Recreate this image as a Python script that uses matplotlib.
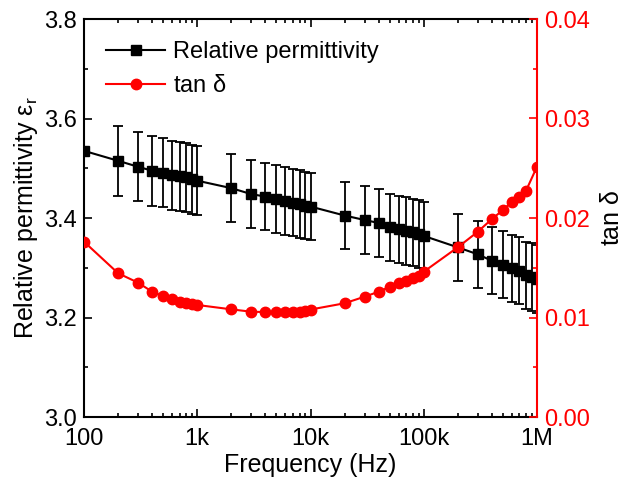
import matplotlib

matplotlib.use("Agg")
import matplotlib.pyplot as plt
import numpy as np
from matplotlib.lines import Line2D
from matplotlib.ticker import FixedLocator, FuncFormatter, LogLocator, MultipleLocator, NullFormatter

plt.rcParams["font.family"] = ["Liberation Sans", "DejaVu Sans"]

# permittivity sweep: 100 Hz .. 1 MHz, 9 points per decade
freq = [100, 200, 300, 400, 500, 600, 700, 800, 900,
        1e3, 2e3, 3e3, 4e3, 5e3, 6e3, 7e3, 8e3, 9e3,
        1e4, 2e4, 3e4, 4e4, 5e4, 6e4, 7e4, 8e4, 9e4,
        1e5, 2e5, 3e5, 4e5, 5e5, 6e5, 7e5, 8e5, 9e5, 1e6]
eps_r = [3.535, 3.515, 3.503, 3.495, 3.491, 3.486, 3.484, 3.482, 3.478,
         3.475, 3.460, 3.448, 3.443, 3.438, 3.434, 3.431, 3.428, 3.425,
         3.423, 3.405, 3.396, 3.390, 3.381, 3.377, 3.374, 3.371, 3.368,
         3.364, 3.341, 3.327, 3.314, 3.306, 3.299, 3.294, 3.285, 3.281, 3.277]
eps_err = [np.nan, 0.070, 0.069, 0.070, 0.069, 0.069, 0.069, 0.069, 0.069,
           0.069, 0.068, 0.068, 0.068, 0.068, 0.068, 0.068, 0.068, 0.068,
           0.068, 0.068, 0.068, 0.068, 0.068, 0.068, 0.068, 0.068, 0.068,
           0.068, 0.068, 0.067, 0.067, 0.067, 0.067, 0.067, 0.067, 0.068, 0.068]

# loss tangent (no 900 kHz point)
freq_tan = [100, 200, 300, 400, 500, 600, 700, 800, 900,
            1e3, 2e3, 3e3, 4e3, 5e3, 6e3, 7e3, 8e3, 9e3,
            1e4, 2e4, 3e4, 4e4, 5e4, 6e4, 7e4, 8e4, 9e4,
            1e5, 2e5, 3e5, 4e5, 5e5, 6e5, 7e5, 8e5, 1e6]
tan_d = [0.01762, 0.01445, 0.01350, 0.01259, 0.01216, 0.01183, 0.01159, 0.01143, 0.01133,
         0.01126, 0.01082, 0.01058, 0.01055, 0.01052, 0.01052, 0.01055, 0.01060, 0.01070,
         0.01080, 0.01143, 0.01209, 0.01259, 0.01309, 0.01344, 0.01370, 0.01400, 0.01417,
         0.01460, 0.01706, 0.01862, 0.01990, 0.02080, 0.02164, 0.02214, 0.02274, 0.02516]

x_ticks = [1e2, 1e3, 1e4, 1e5, 1e6]
x_labels = ["100", "1k", "10k", "100k", "1M"]

RED = "#ff0000"
TICK_FS = 17
LABEL_FS = 18

fig = plt.figure(figsize=(6.27, 4.90), dpi=100)
ax = fig.add_axes([84 / 627, 1 - 417 / 490, (537 - 84) / 627, (417 - 19) / 490])
ax2 = ax.twinx()

ax.errorbar(freq, eps_r, yerr=eps_err, color="black", marker="s", markersize=7,
            linewidth=1.5, elinewidth=1.3, capsize=3.5, capthick=1.3)
ax2.plot(freq_tan, tan_d, color=RED, marker="o", markersize=7.5, linewidth=1.5)

ax.set_xscale("log")
ax.set_xlim(100, 1e6)
ax.set_ylim(3.0, 3.8)
ax2.set_ylim(0.0, 0.04)

ax.xaxis.set_major_locator(FixedLocator(x_ticks))
ax.xaxis.set_major_formatter(FuncFormatter(lambda v, p: dict(zip(x_ticks, x_labels)).get(v, "")))
ax.xaxis.set_minor_locator(LogLocator(base=10, subs=np.arange(2, 10)))
ax.xaxis.set_minor_formatter(NullFormatter())
ax.yaxis.set_major_locator(MultipleLocator(0.2))
ax.yaxis.set_minor_locator(MultipleLocator(0.1))
ax.yaxis.set_major_formatter(FuncFormatter(lambda v, p: f"{v:.1f}"))
ax2.yaxis.set_major_locator(MultipleLocator(0.01))
ax2.yaxis.set_minor_locator(MultipleLocator(0.005))
ax2.yaxis.set_major_formatter(FuncFormatter(lambda v, p: f"{v:.2f}"))

for a in (ax, ax2):
    for s in a.spines.values():
        s.set_linewidth(1.5)
ax.spines["right"].set_visible(False)
ax2.spines["right"].set_color(RED)
ax2.spines["left"].set_visible(False)
ax2.spines["top"].set_visible(False)
ax2.spines["bottom"].set_visible(False)

ax.tick_params(axis="both", which="both", direction="in", labelsize=TICK_FS, width=1.2)
ax.tick_params(axis="x", which="both", top=True)
ax.tick_params(which="major", length=6)
ax.tick_params(which="minor", length=3)
ax.tick_params(axis="x", pad=8)
ax.tick_params(axis="y", pad=5)
ax2.tick_params(axis="y", which="both", direction="in", colors=RED, labelsize=TICK_FS, width=1.2, pad=5)
ax2.tick_params(which="major", length=6)
ax2.tick_params(which="minor", length=3)

ax.set_xlabel("Frequency (Hz)", fontsize=LABEL_FS, labelpad=2)
ax.set_ylabel(r"Relative permittivity $\mathregular{\varepsilon_r}$", fontsize=LABEL_FS, labelpad=3)
ax2.set_ylabel(r"tan $\mathregular{\delta}$", fontsize=LABEL_FS, labelpad=7)

handles = [
    Line2D([], [], color="black", marker="s", markersize=7, linewidth=1.5),
    Line2D([], [], color=RED, marker="o", markersize=7.5, linewidth=1.5),
]
ax.legend(handles, ["Relative permittivity", r"tan $\mathregular{\delta}$"],
          loc="upper left", frameon=False, fontsize=17, handlelength=2.5,
          handletextpad=0.3, borderaxespad=0.55, labelspacing=0.5)

fig.savefig("out.png", dpi=100)
plt.close(fig)
